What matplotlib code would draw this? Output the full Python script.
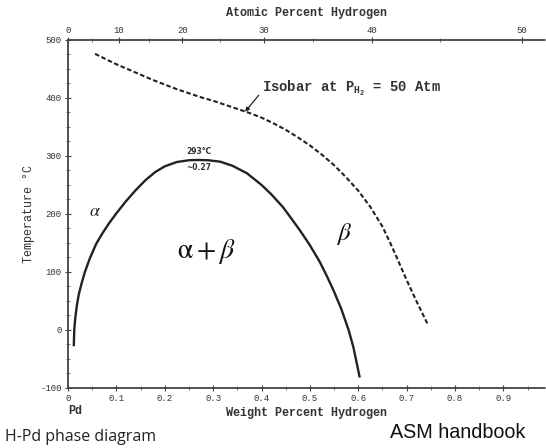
import numpy as np
import matplotlib
matplotlib.use("Agg")
import matplotlib.pyplot as plt
from matplotlib.ticker import MultipleLocator, FixedLocator

# Miscibility gap (alpha + beta) boundary: weight percent H vs temperature (C)
gap_wt = [0.012, 0.013, 0.015, 0.018, 0.022, 0.028, 0.035, 0.045, 0.058, 0.07,
          0.085, 0.10, 0.12, 0.14, 0.16, 0.18, 0.20, 0.225, 0.25, 0.27,
          0.29, 0.315, 0.34, 0.37, 0.40, 0.42, 0.444, 0.46, 0.48, 0.50,
          0.52, 0.535, 0.55, 0.565, 0.58, 0.59, 0.603]
gap_T = [-28, 0, 20, 40, 60, 80, 100, 123, 148, 165,
         184, 201, 222, 241, 258, 272, 282, 289.5, 292.5, 293,
         292.5, 290, 283, 270, 250, 234, 212, 194, 171, 146,
         118, 93, 66, 36, 0, -30, -82]

# Isobar at 50 atm H2
iso_wt = [0.056, 0.08, 0.10, 0.125, 0.15, 0.175, 0.20, 0.225, 0.25, 0.275,
          0.30, 0.325, 0.35, 0.375, 0.40, 0.425, 0.45, 0.475, 0.50, 0.525,
          0.55, 0.575, 0.60, 0.625, 0.65, 0.665, 0.68, 0.70, 0.72, 0.744]
iso_T = [476, 466, 458, 449, 440, 431, 423, 415, 408, 401,
         395, 388, 381, 374, 366, 356, 345, 332, 318, 302,
         284, 263, 240, 212, 178, 152, 124, 86, 50, 9]

wt_ticks = [0, 0.1, 0.2, 0.3, 0.4, 0.5, 0.6, 0.7, 0.8, 0.9]
wt_ticklabels = ["0", "0.1", "0.2", "0.3", "0.4", "0.5", "0.6", "0.7", "0.8", "0.9"]
at_ticks = [0, 10, 20, 30, 40, 50]
T_ticks = [-100, 0, 100, 200, 300, 400, 500]

M_H, M_PD = 1.008, 106.42


def wt2at(w):
    w = np.asarray(w, dtype=float)
    nh = w / M_H
    npd = (100.0 - w) / M_PD
    return 100.0 * nh / (nh + npd)


def at2wt(a):
    a = np.asarray(a, dtype=float)
    mh = a * M_H
    mpd = (100.0 - a) * M_PD
    return 100.0 * mh / (mh + mpd)


mono = "Liberation Mono"
plt.rcParams["mathtext.fontset"] = "custom"
plt.rcParams["mathtext.rm"] = "Liberation Mono:bold"
plt.rcParams["mathtext.it"] = "Liberation Mono:bold"
plt.rcParams["mathtext.bf"] = "Liberation Mono:bold"

fig = plt.figure(figsize=(5.46, 4.48), dpi=100)
ax = fig.add_axes([0.1245, 0.134, 1.0 - 0.1245, 0.777])

ax.plot(gap_wt, gap_T, color="#222222", lw=1.7, solid_capstyle="butt",
        solid_joinstyle="round")
ax.plot(iso_wt, iso_T, color="#222222", lw=1.5, linestyle=(0, (2.2, 1.2)))

ax.set_xlim(0, 0.988)
ax.set_ylim(-100, 500)

ax.spines["right"].set_visible(False)
for s in ("left", "bottom", "top"):
    ax.spines[s].set_linestyle((0, (1.5, 1.0)))
    ax.spines[s].set_linewidth(1.3)
    ax.spines[s].set_color("#444444")

ax.xaxis.set_major_locator(FixedLocator(wt_ticks))
ax.set_xticklabels(wt_ticklabels, fontsize=6.5, family=mono, color="#333333")
ax.xaxis.set_minor_locator(MultipleLocator(0.05))
ax.yaxis.set_major_locator(FixedLocator(T_ticks))
ax.set_yticklabels([str(t) for t in T_ticks], fontsize=6.5, family=mono, color="#333333")
ax.yaxis.set_minor_locator(MultipleLocator(25))
ax.tick_params(axis="both", which="major", direction="inout", length=5, width=0.8,
               color="#444444", pad=2)
ax.tick_params(axis="both", which="minor", direction="inout", length=3, width=0.6,
               color="#666666")

sec = ax.secondary_xaxis("top", functions=(wt2at, at2wt))
sec.xaxis.set_major_locator(FixedLocator(at_ticks))
sec.set_xticklabels([str(t) for t in at_ticks], fontsize=6.5, family=mono, color="#333333")
sec.xaxis.set_minor_locator(MultipleLocator(5))
sec.tick_params(axis="x", which="major", direction="inout", length=5, width=0.8,
                color="#444444", pad=1)
sec.tick_params(axis="x", which="minor", direction="inout", length=3, width=0.6,
                color="#666666")
sec.spines["top"].set_visible(False)
sec.set_xlabel("Atomic Percent Hydrogen", family=mono, fontsize=8.5,
               fontweight="bold", color="#333333", labelpad=7)

ax.set_xlabel("Weight Percent Hydrogen", family=mono, fontsize=8.5,
              fontweight="bold", color="#333333", labelpad=3)
ax.set_ylabel("Temperature \u00b0C", family=mono, fontsize=8.5,
              color="#333333", labelpad=4)

# Critical point annotation
ax.text(0.27, 299, "293\u00b0C", ha="center", va="bottom", fontsize=5.5,
        fontweight="bold", family="DejaVu Sans", color="#333333")
ax.text(0.27, 288, "~0.27", ha="center", va="top", fontsize=5.5,
        fontweight="bold", family="DejaVu Sans", color="#333333")

# Phase labels
ax.text(0.055, 205, r"$\alpha$", fontsize=13, ha="center", va="center",
        color="#222222", math_fontfamily="stix")
ax.text(0.285, 135, r"$\mathrm{\alpha} + \beta$", fontsize=20, ha="center",
        va="center", color="#111111", math_fontfamily="stix")
ax.text(0.57, 165, r"$\beta$", fontsize=18, ha="center", va="center",
        color="#111111", math_fontfamily="stix")

# Isobar label with arrow
ax.annotate(r"Isobar at P$_{\mathrm{H_2}}$ = 50 Atm", xy=(0.366, 376),
            xytext=(0.40, 417), fontsize=10, family=mono, fontweight="bold",
            color="#333333", ha="left", va="center",
            arrowprops=dict(arrowstyle="-|>", color="#222222", lw=0.9,
                            shrinkA=0, shrinkB=0, mutation_scale=6,
                            relpos=(0.0, 0.3)),
            annotation_clip=False)

fig.text(68 / 546, 1 - 411 / 448, "Pd", family=mono, fontsize=8.5,
         fontweight="bold", color="#333333", ha="left", va="center")
fig.text(5 / 546, 1 - 437 / 448, "H-Pd phase diagram", family="Open Sans",
         fontsize=11.5, color="#222222", ha="left", va="center")
fig.text(390 / 546, 1 - 432 / 448, "ASM handbook", family="Liberation Sans",
         fontsize=14.2, color="#111111", ha="left", va="center")

fig.savefig("out.png", dpi=100)
